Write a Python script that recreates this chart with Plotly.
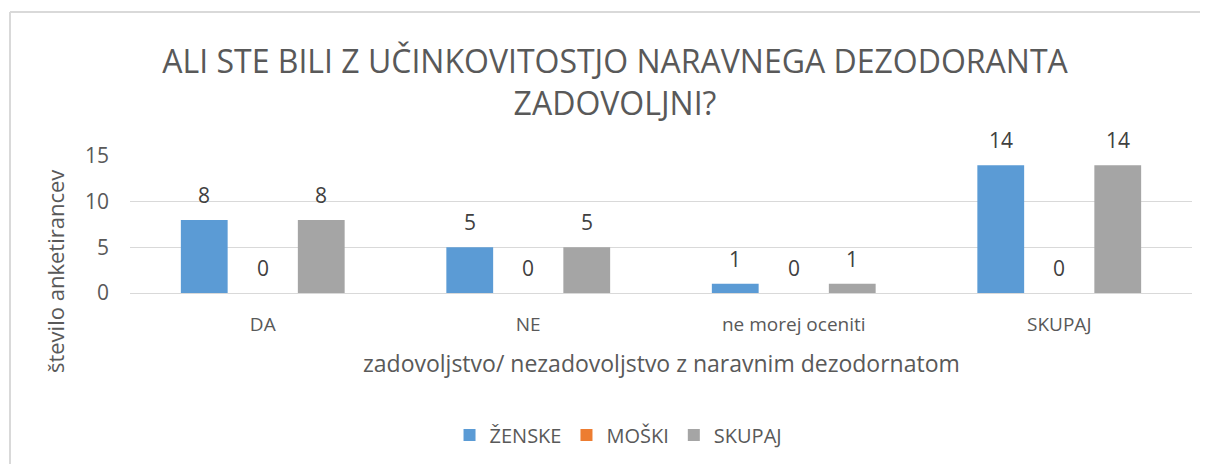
import plotly.graph_objects as go

categories = ["DA", "NE", "ne morej oceniti", "SKUPAJ"]
zenske = [8, 5, 1, 14]
moski = [0, 0, 0, 0]
skupaj = [8, 5, 1, 14]
series_names = ["ŽENSKE", "MOŠKI", "SKUPAJ"]
series_colors = ["#5B9BD5", "#ED7D31", "#A5A5A5"]
y_ticks = [0, 5, 10, 15]

FONT = "Open Sans, sans-serif"
TXT = "#595959"

fig = go.Figure()
all_series = [zenske, moski, skupaj]
for name, vals, col in zip(series_names, all_series, series_colors):
    fig.add_trace(go.Bar(x=categories, y=vals, name=name, marker_color=col,
                         marker_line_width=0))

# data labels
slot = 58.5
annotations = []
for i, vals in enumerate(all_series):
    for c, v in zip(categories, vals):
        annotations.append(dict(x=c, y=v, xref="x", yref="y", text=str(v),
                                showarrow=False, xshift=(i - 1) * slot,
                                yanchor="bottom", yshift=9,
                                font=dict(family=FONT, size=21, color="#404040")))

annotations.append(dict(text="število anketirancev", textangle=-90, x=-0.0706, y=0.153,
                        xref="paper", yref="paper", showarrow=False,
                        xanchor="center", yanchor="middle",
                        font=dict(family=FONT, size=22, color=TXT)))
annotations.append(dict(text="zadovoljstvo/ nezadovoljstvo z naravnim dezodornatom",
                        x=0.5, y=-0.511, xref="paper", yref="paper", showarrow=False,
                        xanchor="center", yanchor="middle",
                        font=dict(family=FONT, size=23, color=TXT)))

border = dict(color="#d9d9d9", width=2)
fig.update_layout(
    width=1192, height=456,
    margin=dict(l=122, r=8, t=148, b=171, autoexpand=False),
    paper_bgcolor="white", plot_bgcolor="white",
    font=dict(family=FONT, color=TXT, size=20),
    title=dict(text="ALI STE BILI Z UČINKOVITOSTJO NARAVNEGA DEZODORANTA<br>ZADOVOLJNI?",
               x=607 / 1192, xanchor="center", y=1 - 65 / 456, yanchor="middle",
               yref="container", font=dict(family=FONT, size=32, color=TXT)),
    barmode="group", bargap=0.339, bargroupgap=0.2,
    showlegend=True,
    legend=dict(orientation="h", x=0.46, xanchor="center", y=-1.036, yanchor="middle",
                font=dict(family=FONT, size=20, color=TXT), itemsizing="constant",
                traceorder="normal"),
    annotations=annotations,
    shapes=[
        dict(type="line", xref="paper", yref="paper", x0=-0.113, x1=-0.113,
             y0=-1.4, y1=2.051, line=border, layer="below"),
        dict(type="line", xref="paper", yref="paper", x0=-0.113, x1=1.1,
             y0=2.051, y1=2.051, line=border, layer="below"),
    ],
)
fig.update_yaxes(range=[0, 15], tickvals=y_ticks, showgrid=True, gridcolor="#d9d9d9",
                 gridwidth=1, zeroline=False, showline=False, ticks="",
                 tickfont=dict(family=FONT, size=21, color=TXT), ticklabelstandoff=20)
fig.update_xaxes(showline=True, linecolor="#d9d9d9", linewidth=1, ticks="",
                 tickfont=dict(family=FONT, size=19, color=TXT), ticklabelstandoff=14)

fig.write_html("out.html")
